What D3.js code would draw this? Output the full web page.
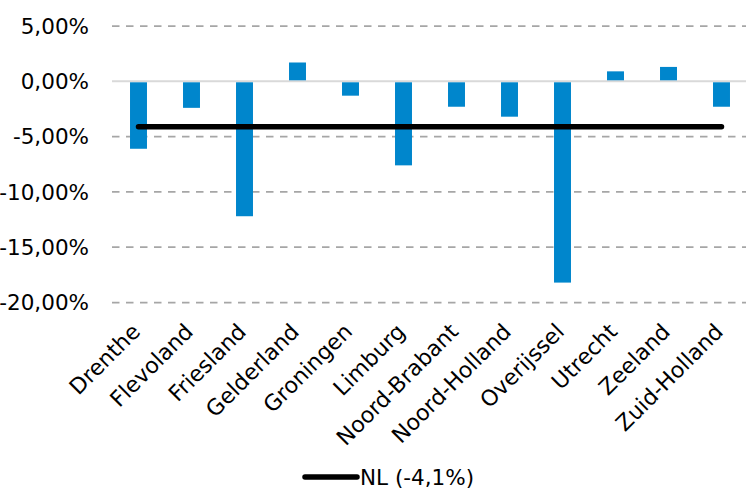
<!DOCTYPE html>
<html>
<head>
<meta charset="utf-8">
<script src="https://cdn.jsdelivr.net/npm/d3@7"></script>
<style>
  body { margin: 0; background: #fff; }
  text { font-family: "DejaVu Sans", sans-serif; fill: #000; }
</style>
</head>
<body>
<div class="chart"></div>
<script>
var provinces = ["Drenthe", "Flevoland", "Friesland", "Gelderland", "Groningen", "Limburg",
  "Noord-Brabant", "Noord-Holland", "Overijssel", "Utrecht", "Zeeland", "Zuid-Holland"];
var changes = [-6.1, -2.4, -12.2, 1.7, -1.3, -7.6, -2.3, -3.2, -18.2, 0.9, 1.3, -2.3];
var nlValue = -4.1;
var nlLabel = "NL (-4,1%)";
var yTicks = [5, 0, -5, -10, -15, -20];

var width = 746, height = 498;

var svg = d3.select(".chart")
  .append("svg")
  .attr("width", width)
  .attr("height", height);

var x = d3.scaleBand()
  .domain(provinces)
  .range([112, 748])
  .paddingInner(0.68)
  .paddingOuter(0.34);

var y = d3.scaleLinear()
  .domain([-20, 5])
  .range([302.5, 26]);

var fmt = function(d) {
  return d3.format(".2f")(d).replace("−", "-").replace(".", ",") + "%";
};

// gridlines
svg.append("g").selectAll("line")
  .data(yTicks)
  .enter().append("line")
  .attr("x1", 112)
  .attr("x2", width)
  .attr("y1", function(d) { return y(d); })
  .attr("y2", function(d) { return y(d); })
  .attr("stroke", function(d) { return d === 0 ? "#d9d9d9" : "#a6a6a6"; })
  .attr("stroke-width", function(d) { return d === 0 ? 2 : 1.75; })
  .attr("stroke-dasharray", function(d) { return d === 0 ? null : "7.5,6.5"; });

// y labels
svg.append("g").selectAll("text")
  .data(yTicks)
  .enter().append("text")
  .attr("x", 89)
  .attr("y", function(d) { return y(d); })
  .attr("dy", "0.36em")
  .attr("text-anchor", "end")
  .style("font-size", "21.5px")
  .text(fmt);

// bars
svg.append("g").selectAll("rect")
  .data(changes)
  .enter().append("rect")
  .attr("x", function(d, i) { return x(provinces[i]); })
  .attr("width", x.bandwidth())
  .attr("y", function(d) { return d > 0 ? y(d) : y(0) + 1; })
  .attr("height", function(d) { return Math.abs(y(d) - y(0)) - 1; })
  .attr("fill", "#0086cc");

// NL line
var first = provinces[0], last = provinces[provinces.length - 1];
svg.append("line")
  .attr("x1", x(first) + x.bandwidth() / 2)
  .attr("x2", x(last) + x.bandwidth() / 2)
  .attr("y1", y(nlValue))
  .attr("y2", y(nlValue))
  .attr("stroke", "#000")
  .attr("stroke-width", 5.5)
  .attr("stroke-linecap", "round");

// x labels
svg.append("g").selectAll("text")
  .data(provinces)
  .enter().append("text")
  .attr("transform", function(d) {
    return "translate(" + (x(d) + x.bandwidth() / 2 + 3) + ",333) rotate(-45)";
  })
  .attr("text-anchor", "end")
  .style("font-size", "22px")
  .text(function(d) { return d; });

// legend
svg.append("line")
  .attr("x1", 305)
  .attr("x2", 357)
  .attr("y1", 477)
  .attr("y2", 477)
  .attr("stroke", "#000")
  .attr("stroke-width", 5.5)
  .attr("stroke-linecap", "round");

svg.append("text")
  .attr("x", 360)
  .attr("y", 477)
  .attr("dy", "0.36em")
  .style("font-size", "21.5px")
  .text(nlLabel);
</script>
</body>
</html>
